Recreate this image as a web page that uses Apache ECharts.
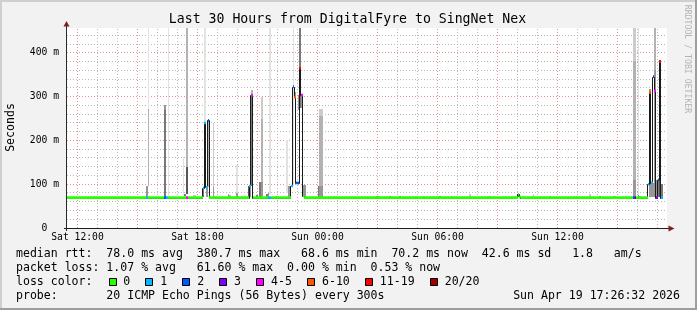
<!DOCTYPE html>
<html><head><meta charset="utf-8">
<script src="https://cdn.jsdelivr.net/npm/echarts@6/dist/echarts.min.js"></script>
<style>html,body{margin:0;padding:0;background:#f2f2f2;}#c{width:697px;height:310px;}</style>
</head><body><div id="c"></div><script>
// ---------------- data ----------------
const chartTitle = 'Last 30 Hours from DigitalFyre to SingNet Nex';
const yAxisName = 'Seconds';
const watermark = 'RRDTOOL / TOBI OETIKER';
const xTickHours = [12, 18, 24, 30, 36];            // hours from Sat 00:00
const xTickLabels = ['Sat 12:00', 'Sat 18:00', 'Sun 00:00', 'Sun 06:00', 'Sun 12:00'];
const yTickValues = [0, 100, 200, 300, 400];         // ms
const yTickLabels = ['0  ', '100 m', '200 m', '300 m', '400 m'];
const windowStart = 11.475;                          // Sat 11:28:30
const windowHours = 30;
const yMax = 457;                                    // ms
const stepMinutes = 5;
const baselineSpan = ['Sat 11:25', 'Sun 17:10'];
const baselineRtt = 69.5;                            // ms, flat median
// median steps that differ from the flat baseline: [time, median ms, loss class]
const medianEvents = [
  ['Sat 15:25', 69.5, 1], ['Sat 16:20', 69.5, 2], ['Sat 16:25', 69.5, 1], ['Sat 17:25', 69.5, 4],
  ['Sat 18:15', 92, 1], ['Sat 18:20', 240, 1], ['Sat 18:25', 93, 1], ['Sat 18:30', 246, 2],
  ['Sat 20:35', 96, 1], ['Sat 20:40', 303, 4], ['Sat 21:30', 69.5, 1], ['Sat 21:35', 69.5, 1],
  ['Sat 22:40', 96, 1], ['Sat 22:45', 323, 2], ['Sat 22:50', 299, 5], ['Sat 22:55', 103, 2],
  ['Sat 23:00', 103, 2], ['Sat 23:05', 365, 6], ['Sat 23:10', 304, 4], ['Sat 23:15', 73, 0],
  ['Sun 10:00', 77, 0], ['Sun 10:05', 71, 0],
  ['Sun 15:45', 69.5, 2], ['Sun 15:50', 69.5, 3],
  ['Sun 16:30', 100, 1], ['Sun 16:35', 310, 5], ['Sun 16:40', 103, 1], ['Sun 16:45', 346, 3],
  ['Sun 16:50', 314, 4], ['Sun 16:55', 69.5, 3], ['Sun 17:00', 110, 2], ['Sun 17:05', 380, 6],
  ['Sun 17:10', 69.5, 1]
];
// smoke bands: [time, low ms, high ms, layer (0 = outermost pings ... 5 = innermost)]
const smoke = [
  ['Sat 15:25', 70, 96, 3], ['Sat 15:30', 96, 273, 2], ['Sat 15:30', 273, 457, 0],
  ['Sat 16:20', 70, 270, 4], ['Sat 16:20', 270, 280, 3], ['Sat 16:30', 70, 457, 0],
  ['Sat 17:15', 75, 163, 0], ['Sat 17:20', 72, 78, 4], ['Sat 17:25', 78, 140, 5], ['Sat 17:25', 140, 457, 2],
  ['Sat 17:45', 70, 76, 1], ['Sat 17:50', 70, 75, 1],
  ['Sat 18:15', 70, 94, 4], ['Sat 18:20', 93, 237, 2], ['Sat 18:20', 240, 457, 0],
  ['Sat 18:25', 70, 93, 3], ['Sat 18:30', 93, 246, 2],
  ['Sat 18:45', 70, 93, 3], ['Sat 18:45', 93, 240, 1],
  ['Sat 19:30', 70, 78, 3], ['Sat 19:35', 70, 76, 2], ['Sat 19:55', 70, 80, 3], ['Sat 19:55', 80, 144, 0],
  ['Sat 20:30', 70, 96, 5], ['Sat 20:35', 70, 96, 3], ['Sat 20:40', 96, 303, 4], ['Sat 20:40', 303, 315, 2],
  ['Sat 20:55', 70, 75, 4], ['Sat 21:05', 70, 106, 4], ['Sat 21:10', 70, 106, 3],
  ['Sat 21:10', 106, 250, 2], ['Sat 21:10', 250, 299, 1],
  ['Sat 21:25', 70, 78, 4], ['Sat 21:30', 70, 80, 3], ['Sat 21:35', 76, 457, 0], ['Sat 21:55', 70, 74, 3],
  ['Sat 22:25', 80, 202, 0], ['Sat 22:30', 70, 96, 3], ['Sat 22:35', 70, 96, 3],
  ['Sat 22:45', 96, 457, 0], ['Sat 22:50', 299, 310, 3], ['Sat 23:00', 270, 305, 3],
  ['Sat 23:05', 274, 457, 4], ['Sat 23:10', 274, 304, 3], ['Sat 23:15', 70, 98, 3], ['Sat 23:20', 70, 98, 3],
  ['Sun 00:00', 70, 96, 4], ['Sun 00:05', 70, 96, 3], ['Sun 00:05', 96, 255, 2], ['Sun 00:05', 255, 273, 1],
  ['Sun 00:10', 70, 96, 3], ['Sun 00:10', 96, 255, 2], ['Sun 00:10', 255, 273, 1],
  ['Sun 02:55', 70, 74, 3], ['Sun 03:00', 70, 74, 4], ['Sun 03:35', 70, 74, 4], ['Sun 04:05', 70, 74, 4],
  ['Sun 04:55', 70, 74, 1], ['Sun 05:15', 70, 74, 1], ['Sun 06:05', 70, 74, 4], ['Sun 06:40', 70, 74, 1],
  ['Sun 07:35', 70, 78, 1], ['Sun 08:30', 70, 74, 1], ['Sun 08:35', 70, 74, 1],
  ['Sun 10:00', 70, 80, 5], ['Sun 10:05', 68, 74, 5], ['Sun 10:45', 70, 78, 1], ['Sun 11:35', 70, 74, 1],
  ['Sun 12:55', 70, 74, 1], ['Sun 13:35', 70, 78, 1], ['Sun 14:05', 70, 74, 4],
  ['Sun 14:45', 70, 74, 1], ['Sun 14:50', 70, 74, 2],
  ['Sun 15:45', 70, 110, 3], ['Sun 15:45', 110, 382, 2], ['Sun 15:45', 382, 457, 1],
  ['Sun 15:50', 70, 110, 3], ['Sun 15:50', 110, 382, 2], ['Sun 15:50', 382, 457, 1],
  ['Sun 16:00', 70, 457, 0], ['Sun 16:00', 70, 75, 4], ['Sun 16:05', 70, 74, 3],
  ['Sun 16:35', 70, 102, 3], ['Sun 16:35', 305, 318, 3], ['Sun 16:40', 70, 103, 3], ['Sun 16:45', 70, 103, 3],
  ['Sun 16:50', 70, 360, 3], ['Sun 16:50', 360, 457, 2], ['Sun 16:55', 70, 110, 3],
  ['Sun 17:00', 70, 110, 4], ['Sun 17:05', 70, 384, 5], ['Sun 17:10', 70, 100, 4]
];
const lossLabels = ['0', '1', '2', '3', '4-5', '6-10', '11-19', '20/20'];
const statsRtt = 'median rtt:  78.0 ms avg  380.7 ms max   68.6 ms min  70.2 ms now  42.6 ms sd   1.8   am/s';
const statsLoss = 'packet loss: 1.07 % avg   61.60 % max  0.00 % min  0.53 % now';
const lossHeading = 'loss color:';
const probeText = 'probe:       20 ICMP Echo Pings (56 Bytes) every 300s';
const stampText = 'Sun Apr 19 17:26:32 2026';

// ---------------- styles ----------------
const lossColors = ['#26ff00', '#00b8ff', '#0059ff', '#7e00ff', '#ff00ff', '#ff5500', '#ff0000', '#a10000'];
const smokeShades = ['#e2e2e2', '#cbcbcb', '#b2b2b2', '#979797', '#787878', '#575757'];
const FONT = '"DejaVu Sans Mono", monospace';
const GRID_MINOR = '#b8b8b8', GRID_MAJOR = '#e39090';
const GRID_DASH = [1, 2];

// ---------------- build ----------------
const parseMin = s => { const [d, hm] = s.split(' '); const [h, m] = hm.split(':').map(Number); return (d === 'Sun' ? 1440 : 0) + h * 60 + m; };
const stepH = stepMinutes / 60;
const evMap = new Map(medianEvents.map(e => [parseMin(e[0]), e]));
const steps = [];
for (let m = parseMin(baselineSpan[0]); m <= parseMin(baselineSpan[1]); m += stepMinutes) {
  const e = evMap.get(m);
  steps.push([m / 60, e ? e[1] : baselineRtt, e ? e[2] : 0]);
}
const runs = [];
steps.forEach(s => {
  const last = runs[runs.length - 1];
  if (last && last[2] === s[1] && last[3] === s[2] && Math.abs(last[1] - s[0]) < 1e-6) last[1] = s[0] + stepH;
  else runs.push([s[0], s[0] + stepH, s[1], s[2]]);
});
const lineItems = steps.map((s, i) => [s[0], s[0] + stepH, s[1], i ? steps[i - 1][1] : s[1]]);
const smokeItems = smoke.map(r => { const t = parseMin(r[0]) / 60; return [t, t + stepH, r[1], r[2], r[3]]; });
const xEnd = windowStart + windowHours;
const vGrid = []; for (let h = Math.ceil(windowStart); h < xEnd; h++) vGrid.push([h, h % 3 === 0 ? 1 : 0]);
const hGrid = []; for (let v = 20; v < yMax; v += 20) hGrid.push([windowStart, v, v % 100 === 0 ? 1 : 0]);

function renderVGrid(p, api) {
  const h = api.value(0);
  const b = api.coord([h, 0]), t = api.coord([h, yMax]);
  const x = Math.floor(b[0]) + 0.5;
  return { type: 'line', shape: { x1: x, y1: Math.round(b[1]), x2: x, y2: Math.round(t[1]) },
    style: { stroke: api.value(1) ? GRID_MAJOR : GRID_MINOR, lineWidth: 1, lineDash: GRID_DASH } };
}
function renderHGrid(p, api) {
  const v = api.value(1);
  const l = api.coord([windowStart, v]), r = api.coord([xEnd, v]);
  const y = Math.floor(l[1]) + 0.5;
  return { type: 'line', shape: { x1: Math.round(l[0]), y1: y, x2: Math.round(r[0]), y2: y },
    style: { stroke: api.value(2) ? GRID_MAJOR : GRID_MINOR, lineWidth: 1, lineDash: GRID_DASH } };
}
function renderSmoke(p, api) {
  const a = api.coord([api.value(0), api.value(3)]);
  const b = api.coord([api.value(1), api.value(2)]);
  const x0 = Math.round(a[0]), x1 = Math.round(b[0]);
  const y0 = Math.round(a[1]), y1 = Math.round(b[1]);
  return { type: 'rect', shape: { x: x0, y: y0, width: Math.max(1, x1 - x0), height: Math.max(1, y1 - y0) },
    style: { fill: smokeShades[api.value(4)] } };
}
function renderLine(p, api) {
  const a = api.coord([api.value(0), api.value(2)]), b = api.coord([api.value(1), api.value(2)]);
  const pv = api.coord([api.value(0), api.value(3)]);
  const xa = Math.floor(a[0]) + 0.5, xb = Math.floor(b[0]) + 0.5;
  const y = Math.round(a[1]) + 0.5, yp = Math.round(pv[1]) + 0.5;
  return { type: 'polyline', shape: { points: [[xa, yp], [xa, y], [xb, y]] },
    style: { stroke: '#1a1a1a', lineWidth: 1, fill: null } };
}
function renderMedian(p, api) {
  const a = api.coord([api.value(0), api.value(2)]), b = api.coord([api.value(1), api.value(2)]);
  const x0 = Math.round(a[0]), x1 = Math.round(b[0]);
  return { type: 'rect', shape: { x: x0, y: a[1] - 1.3, width: x1 - x0, height: 2.6 },
    style: { fill: lossColors[api.value(3)] } };
}

// ---------------- graphics (frame, axes arrows, texts) ----------------
const g = [];
g.push({ type: 'rect', shape: { x: 0, y: 0, width: 697, height: 2 }, style: { fill: '#cfcfcf' } });
g.push({ type: 'rect', shape: { x: 0, y: 0, width: 2, height: 310 }, style: { fill: '#cfcfcf' } });
g.push({ type: 'rect', shape: { x: 0, y: 308, width: 697, height: 2 }, style: { fill: '#9e9e9e' } });
g.push({ type: 'rect', shape: { x: 695, y: 0, width: 2, height: 310 }, style: { fill: '#9e9e9e' } });
g.push({ type: 'line', z: 50, shape: { x1: 66.5, y1: 231, x2: 66.5, y2: 25 }, style: { stroke: '#2a2a2a', lineWidth: 1 } });
g.push({ type: 'line', z: 50, shape: { x1: 64, y1: 228.5, x2: 670, y2: 228.5 }, style: { stroke: '#1f1f1f', lineWidth: 1 } });
g.push({ type: 'polygon', z: 51, shape: { points: [[63.5, 26.5], [69.5, 26.5], [66.5, 21]] }, style: { fill: '#801f1f' } });
g.push({ type: 'polygon', z: 51, shape: { points: [[668.5, 225.5], [668.5, 231.5], [674.5, 228.5]] }, style: { fill: '#801f1f' } });
const txt = (text, x, y, size, extra) => Object.assign({ type: 'text', x: x, y: y, z: 60,
  style: { text: text, font: size + 'px ' + FONT, fill: '#000', align: 'left', verticalAlign: 'middle' } }, extra || {});
g.push(txt(chartTitle, 347.5, 19.3, 13.2, { style: { text: chartTitle, font: '13.2px ' + FONT, fill: '#000', align: 'center', verticalAlign: 'middle' } }));
g.push(txt(yAxisName, 10.5, 127.5, 11.55, { rotation: Math.PI / 2, style: { text: yAxisName, font: '11.55px ' + FONT, fill: '#000', align: 'center', verticalAlign: 'middle' } }));
g.push(txt(watermark, 687.5, 59, 8.2, { rotation: -Math.PI / 2, style: { text: watermark, font: '8.2px ' + FONT, fill: '#b4b4b4', align: 'center', verticalAlign: 'middle' } }));
g.push(txt(statsRtt, 16, 254.3, 11.55));
g.push(txt(statsLoss, 16, 268.3, 11.55));
g.push(txt(lossHeading, 16, 282.3, 11.55));
g.push(txt(probeText, 16, 296.3, 11.55));
g.push(txt(stampText, 680, 296.3, 11.55, { style: { text: stampText, font: '11.55px ' + FONT, fill: '#000', align: 'right', verticalAlign: 'middle' } }));
let L = 108.5;
lossLabels.forEach((lab, i) => {
  const x = Math.round(L) + 0.5;
  g.push({ type: 'rect', z: 60, shape: { x: x, y: 278.5, width: 7, height: 7 }, style: { fill: lossColors[i], stroke: '#000', lineWidth: 1 } });
  g.push(txt(lab, L + 14.7, 282.3, 11.55));
  L += 30 + 6.97 * lab.length;
});

// ---------------- chart ----------------
const chart = echarts.init(document.getElementById('c'), null, { renderer: 'canvas' });
chart.setOption({
  animation: false,
  backgroundColor: '#f2f2f2',
  grid: { left: 67, top: 28, width: 600, height: 200, show: true, backgroundColor: '#ffffff', borderWidth: 0, containLabel: false, outerBoundsMode: 'none' },
  xAxis: {
    type: 'value', min: windowStart, max: xEnd,
    axisLine: { show: false }, axisTick: { show: false }, splitLine: { show: false },
    axisLabel: { customValues: xTickHours, formatter: v => xTickLabels[xTickHours.indexOf(Math.round(v))],
      fontFamily: FONT, fontSize: 9.7, color: '#000', margin: 4 }
  },
  yAxis: {
    type: 'value', min: 0, max: yMax,
    axisLine: { show: false }, axisTick: { show: false }, splitLine: { show: false },
    axisLabel: { customValues: yTickValues, formatter: v => yTickLabels[yTickValues.indexOf(Math.round(v))],
      fontFamily: FONT, fontSize: 9.7, color: '#000', margin: 8 }
  },
  graphic: { elements: g },
  series: [
    { type: 'custom', name: 'vgrid', z: 1, clip: true, silent: true, renderItem: renderVGrid, encode: { x: 0 }, data: vGrid.map(d => [d[0], d[1]]) },
    { type: 'custom', name: 'hgrid', z: 1, clip: true, silent: true, renderItem: renderHGrid, encode: { x: 0, y: 1 }, data: hGrid },
    { type: 'custom', name: 'smoke', z: 2, clip: true, silent: true, renderItem: renderSmoke, encode: { x: [0, 1], y: [2, 3] }, data: smokeItems },
    { type: 'custom', name: 'medianLine', z: 3, clip: true, silent: true, renderItem: renderLine, encode: { x: [0, 1], y: [2, 3] }, data: lineItems },
    { type: 'custom', name: 'median', z: 4, clip: true, silent: true, renderItem: renderMedian, encode: { x: [0, 1], y: 2 }, data: runs }
  ]
});
</script></body></html>
